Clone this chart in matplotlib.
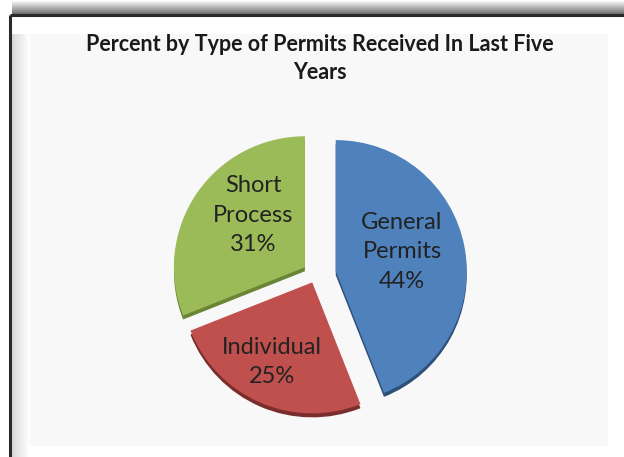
import numpy as np
import matplotlib
matplotlib.use("Agg")
import matplotlib.pyplot as plt
from matplotlib.patches import Rectangle

title = "Percent by Type of Permits Received In Last Five\nYears"
categories = ["General\nPermits", "Individual", "Short\nProcess"]
values = [44, 25, 31]
colors = ["#4F81BD", "#C0504D", "#9BBB59"]
edge_colors = ["#2E4F78", "#7A2E2C", "#6A8535"]

W, H = 624, 457
fig = plt.figure(figsize=(W / 100, H / 100), dpi=100)

# background / frame
bg = fig.add_axes([0, 0, 1, 1])
bg.set_xlim(0, W)
bg.set_ylim(H, 0)
bg.axis("off")
grad = np.linspace(1.0, 0.45, 14).reshape(-1, 1)
bg.imshow(np.dstack([grad, grad, grad]), extent=[12, W, 14, 0], aspect="auto", zorder=1)
bg.add_patch(Rectangle((10, 14), W - 10, H - 14, facecolor="white", edgecolor="none", zorder=2))
bg.add_patch(Rectangle((30, 34), 578, 412, facecolor="#f8f8f8", edgecolor="none", zorder=3))
lg = np.linspace(0.84, 1.0, 20).reshape(1, -1)
bg.imshow(np.dstack([lg, lg, lg]), extent=[10, 30, H, 34], aspect="auto", zorder=3)
bg.plot([9.5, W], [14.5, 14.5], color="#2a2a2a", lw=2.2, zorder=4, solid_capstyle="butt")
bg.plot([9.5, 9.5], [14.5, H], color="#2a2a2a", lw=2.2, zorder=4, solid_capstyle="butt")

bg.text(320, 58.5, title, ha="center", va="center", fontsize=15.5, fontweight="bold",
        family="Lato", color="#1a1a1a", linespacing=1.42, zorder=5)

# pie axes
r_px = 131
cx, cy = 319, 457 - 273
lim = 1.4
aw = ah = 2 * lim * r_px
ax = fig.add_axes([(cx - aw / 2) / W, (cy - ah / 2) / H, aw / W, ah / H])
ax.patch.set_alpha(0)

explode = [0.13, 0.13, 0.13]
ysq = 0.6   # vertical compression of explode offsets (3D tilt)
rim = 4.0 / r_px

sh, _ = ax.pie(values, startangle=90, counterclock=False, explode=explode,
               colors=edge_colors, wedgeprops=dict(linewidth=0))
wedges, texts = ax.pie(values, startangle=90, counterclock=False, explode=explode,
                       colors=colors, wedgeprops=dict(linewidth=0))
for w in sh:
    x0, y0 = w.center
    w.set_center((x0, y0 * ysq - rim))
    w.set_zorder(1)
for w in wedges:
    x0, y0 = w.center
    w.set_center((x0, y0 * ysq))
    w.set_zorder(2)
ax.set_xlim(-lim, lim)
ax.set_ylim(-lim, lim)
ax.axis("off")

label_px = [(402, 252), (272, 362), (253, 215)]
for (px, py), cat, v in zip(label_px, categories, values):
    dx = (px - cx) / r_px
    dy = ((457 - py) - cy) / r_px
    ax.text(dx, dy, f"{cat}\n{v}%", ha="center", va="center", fontsize=17,
            family="Lato", color="#222222", linespacing=1.52, zorder=5)

fig.savefig("out.png", dpi=100)
